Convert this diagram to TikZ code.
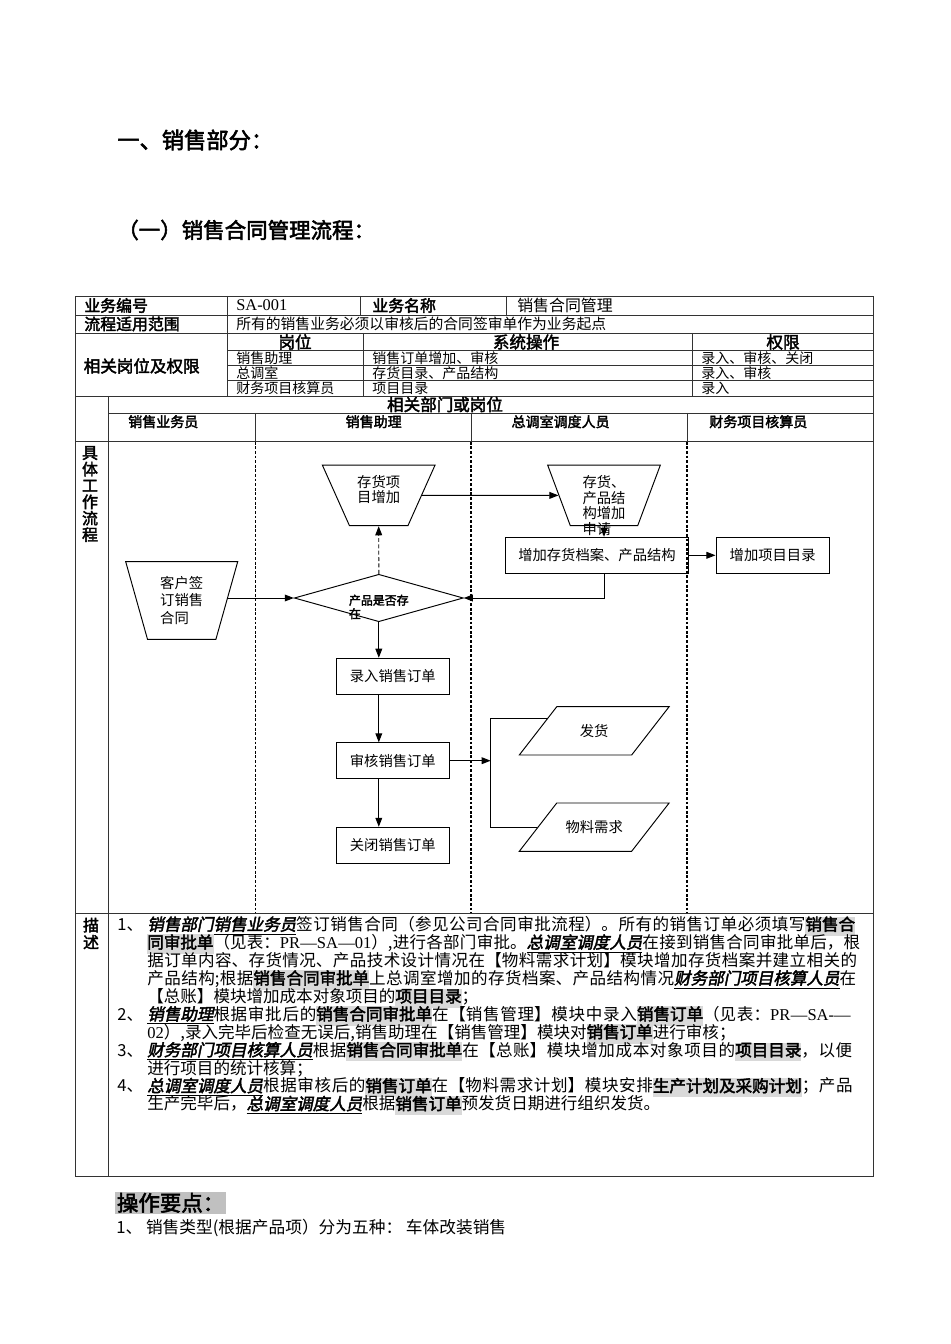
\documentclass[tikz,border=0pt]{standalone}
\usepackage{fontspec}
\setmainfont{Noto Sans CJK SC}[AutoFakeBold=2.5, AutoFakeSlant=0.2]
\newfontfamily\latinfont{Liberation Serif}
\usetikzlibrary{arrows.meta, shapes.geometric}
\definecolor{rule}{HTML}{333333}
\definecolor{hlgray}{HTML}{D9D9D9}
\definecolor{hlgraydk}{HTML}{C0C0C0}
\XeTeXlinebreaklocale "zh"
\XeTeXlinebreakskip=0pt plus 1pt minus 0.1pt
% gray marked bold terms and underlined roles in the description
\newcommand{\hlt}[1]{{\setlength{\fboxsep}{0pt}\colorbox{hlgray}{\strut\bfseries #1}}}
\newcommand{\role}[1]{\underline{\bfseries\itshape #1}}

\begin{document}
\begin{tikzpicture}[x=0.0221cm, y=-0.0221cm,
    tbl/.style={draw=rule, line width=0.6pt},
    lane/.style={draw=black, line width=0.8pt, dash pattern=on 1.8pt off 1.1pt},
    fld/.style={inner sep=0pt, font=\fontsize{10}{10.4}\selectfont\bfseries},
    val/.style={inner sep=0pt, anchor=west, font=\fontsize{9.3}{10}\selectfont},
    sub/.style={inner sep=0pt, anchor=west, font=\fontsize{8.8}{9}\selectfont},
    who/.style={inner sep=0pt, font=\fontsize{8.8}{9}\selectfont\bfseries},
    act/.style={draw, line width=0.6pt, minimum width=2.48cm, minimum height=0.79cm,
                inner sep=1pt, font=\fontsize{9}{10}\selectfont},
    doc/.style={draw, trapezium, shape border rotate=180, trapezium stretches body,
                text depth=0pt, line width=0.6pt, inner sep=0pt},
    io/.style={draw, trapezium, trapezium left angle=52.2, trapezium right angle=127.8,
               trapezium stretches body, minimum width=3.31cm, text height=1.067cm, text depth=0pt,
               line width=0.6pt, inner sep=0pt},
    txt/.style={align=left, inner sep=0pt, font=\fontsize{9}{#1}\selectfont},
    arr/.style={-{Triangle[length=2mm, width=1.5mm]}, line width=0.6pt}
  ]
  \useasboundingbox (0,0) rectangle (950,1344);

  % headings
  \node[anchor=west, inner sep=0pt, font=\fontsize{14}{16}\selectfont\bfseries] (title) at (117,140) {一、销售部分：};
  \node[anchor=west, inner sep=0pt, font=\fontsize{13.5}{15}\selectfont\bfseries] (subtitle) at (117,230) {（一）销售合同管理流程：};

  % table rules
  \draw[tbl] (75,296) rectangle (873,1176.7);
  \draw[tbl] (75,315) -- (873,315);
  \draw[tbl] (75,333) -- (873,333);
  \foreach \y in {350,365.7,380.7} \draw[tbl] (227,\y) -- (873,\y);
  \draw[tbl] (75,396) -- (873,396);
  \draw[tbl] (108,413) -- (873,413);
  \draw[tbl] (75,441.7) -- (873,441.7);
  \draw[tbl] (75,913) -- (873,913);
  \draw[tbl] (227,296) -- (227,396);
  \draw[tbl] (360,296) -- (360,315);
  \draw[tbl] (506,296) -- (506,315);
  \draw[tbl] (363,333) -- (363,396);
  \draw[tbl] (692,333) -- (692,396);
  \draw[tbl] (108,396) -- (108,1176.7);
  \foreach \x in {255.5,471,687} {
    \draw[tbl] (\x,413) -- (\x,441.7);
    \draw[lane] (\x,441.7) -- (\x,913);
  }

  % table texts
  \node[fld, anchor=west] (idkey) at (84,305.5) {业务编号};
  \node[val, font=\latinfont\fontsize{10.3}{11}\selectfont] (idval) at (236,305.5) {SA-001};
  \node[fld, anchor=west] (namekey) at (372,305.5) {业务名称};
  \node[val, font=\fontsize{10}{11}\selectfont] (nameval) at (517,305.5) {销售合同管理};
  \node[fld, anchor=west] (scopekey) at (84,324) {流程适用范围};
  \node[val] (scopeval) at (236,324) {所有的销售业务必须以审核后的合同签审单作为业务起点};
  \node[fld, font=\fontsize{10.4}{11}\selectfont\bfseries] (rightskey) at (141.7,366) {相关岗位及权限};
  \node[fld, font=\fontsize{10.4}{11}\selectfont\bfseries] (posh) at (295,342) {岗位};
  \node[fld, font=\fontsize{10.4}{11}\selectfont\bfseries] (oph) at (526,342) {系统操作};
  \node[fld, font=\fontsize{10.4}{11}\selectfont\bfseries] (permh) at (783,342) {权限};
  \node[sub] (pos1) at (236,357.9) {销售助理};
  \node[sub] (op1) at (372,357.9) {销售订单增加、审核};
  \node[sub] (perm1) at (701,357.9) {录入、审核、关闭};
  \node[sub] (pos2) at (236,373.2) {总调室};
  \node[sub] (op2) at (372,373.2) {存货目录、产品结构};
  \node[sub] (perm2) at (701,373.2) {录入、审核};
  \node[sub] (pos3) at (236,388.4) {财务项目核算员};
  \node[sub] (op3) at (372,388.4) {项目目录};
  \node[sub] (perm3) at (701,388.4) {录入};
  \node[fld, font=\fontsize{10.4}{11}\selectfont\bfseries] (deptkey) at (445,404.5) {相关部门或岗位};
  \node[who] (lane1) at (163.3,421.7) {销售业务员};
  \node[who] (lane2) at (373.7,421.7) {销售助理};
  \node[who] (lane3) at (560.6,421.7) {总调室调度人员};
  \node[who] (lane4) at (758.3,421.7) {财务项目核算员};
  \node[fld, align=center, font=\fontsize{10}{10.3}\selectfont\bfseries] (flowkey) at (90,494) {具\\体\\工\\作\\流\\程};
  \node[fld, align=center, font=\fontsize{10}{10.65}\selectfont\bfseries] (desckey) at (91,933.5) {描\\述};

  % flow shapes
  \node[doc, trapezium left angle=74.3, trapezium right angle=74.3, minimum width=2.475cm, text height=1.715cm,
        label={[name=custtxt, txt=11.3]center:{客户签\\订销售\\合同}}] (cust) at (181.7,600.5) {};
  \node[doc, trapezium left angle=65.9, trapezium right angle=65.9, minimum width=2.49cm, text height=1.34cm,
        label={[name=stocktxt, txt=9.4, yshift=3.7pt]center:{存货项\\目增加}}] (stock) at (378.7,495.4) {};
  \node[doc, trapezium left angle=69.5, trapezium right angle=69.5, minimum width=2.49cm, text height=1.34cm,
        label={[name=appltxt, txt=9.8, yshift=-6.3pt]center:{存货、\\产品结\\构增加\\申请}}] (appl) at (604,495.4) {};
  \node[draw, diamond, minimum width=3.735cm, minimum height=1.048cm, inner sep=0pt, line width=0.6pt,
        label={[name=judgetxt, align=left, inner sep=0pt, font=\fontsize{7.5}{8.5}\selectfont\bfseries, yshift=-5.6pt]center:{产品是否存\\在}}] (judge) at (378.8,598) {};
  \node[act, minimum width=4.035cm, minimum height=0.796cm] (prof) at (597,555.3) {增加存货档案、产品结构};
  \node[act, minimum width=2.504cm, minimum height=0.796cm] (catalog) at (772.65,555.3) {增加项目目录};
  \node[act] (entry) at (392.85,676.15) {录入销售订单};
  \node[act] (audit) at (392.85,760.7) {审核销售订单};
  \node[act] (close) at (392.85,845.15) {关闭销售订单};
  \node[io, label={[name=shiptxt, txt=10]center:发货}] (ship) at (594.2,730.85) {};
  \node[io, label={[name=needtxt, txt=10]center:物料需求}] (need) at (594.2,827.15) {};
  \coordinate (fork) at (490.7,760.7);

  % connectors
  \draw[arr] (stock.east) -- (appl.west);
  \draw[arr] (appl.south) -- (appl.south |- prof.north);
  \draw[arr] (prof.east) -- (catalog.west);
  \draw[arr] (appl.south |- prof.south) |- (judge.east);
  \draw[arr] (cust.east |- judge) -- (judge.west);
  \draw[arr, dash pattern=on 2.5pt off 1.5pt] (judge.north) -- (stock.south);
  \draw[arr] (judge.south) -- (judge.south |- entry.north);
  \draw[arr] (judge.south |- entry.south) -- (judge.south |- audit.north);
  \draw[arr] (judge.south |- audit.south) -- (judge.south |- close.north);
  \draw[arr] (audit.east) -- (fork);
  \draw[line width=0.6pt] (ship.165) -- (ship.165 -| fork) -- (need.west -| fork) -- (need.west);

  % description
  \node[anchor=north west, inner sep=0pt, text width=16.53cm, font=\fontsize{10.4}{11.28}\selectfont] (desc) at (117,916) {%
    \lineskiplimit=-20pt\lineskip=0pt%
    \hangindent=0.663cm\hangafter=1\noindent\makebox[0.663cm][l]{1、}\role{销售部门销售业务员}签订销售合同（参见公司合同审批流程）。所有的销售订单必须填写\hlt{销售合}\linebreak%
    \hlt{同审批单}（见表：{\latinfont PR—SA—01}）,进行各部门审批。\role{总调室调度人员}在接到销售合同审批单后，根\linebreak%
    据订单内容、存货情况、产品技术设计情况在【物料需求计划】模块增加存货档案并建立相关的\linebreak%
    产品结构;根据\hlt{销售合同审批单}上总调室增加的存货档案、产品结构情况\role{财务部门项目核算人员}在\linebreak%
    【总账】模块增加成本对象项目的\hlt{项目目录}；\par
    \hangindent=0.663cm\hangafter=1\noindent\makebox[0.663cm][l]{2、}\role{销售助理}根据审批后的\hlt{销售合同审批单}在【销售管理】模块中录入\hlt{销售订单}（见表：{\latinfont PR—SA-—}\linebreak%
    {\latinfont 02}）,录入完毕后检查无误后,销售助理在【销售管理】模块对\hlt{销售订单}进行审核；\par
    \hangindent=0.663cm\hangafter=1\noindent\makebox[0.663cm][l]{3、}\role{财务部门项目核算人员}根据\hlt{销售合同审批单}在【总账】模块增加成本对象项目的\hlt{项目目录}，以便\linebreak%
    进行项目的统计核算；\par
    \hangindent=0.663cm\hangafter=1\noindent\makebox[0.663cm][l]{4、}\role{总调室调度人员}根据审核后的\hlt{销售订单}在【物料需求计划】模块安排\hlt{生产计划及采购计划}；产品\linebreak%
    生产完毕后，\role{总调室调度人员}根据\hlt{销售订单}预发货日期进行组织发货。\par};

  % notes below the table
  \node[anchor=west, inner xsep=1pt, inner ysep=0pt, minimum height=0.49cm, fill=hlgraydk,
        font=\fontsize{13.5}{15}\selectfont\bfseries] (tips) at (115,1202.8) {操作要点：};
  \node[anchor=west, inner sep=0pt, font=\fontsize{10.5}{12}\selectfont] (tip1) at (116,1228) {1、 销售类型(根据产品项）分为五种： 车体改装销售};
\end{tikzpicture}
\end{document}
